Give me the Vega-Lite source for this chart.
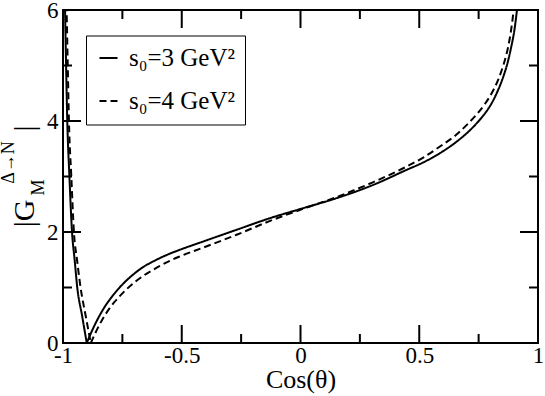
{
  "$schema": "https://vega.github.io/schema/vega-lite/v6.json",
  "width": 475,
  "height": 333,
  "autosize": {"type": "none"},
  "padding": {"left": 63, "top": 10, "right": 7, "bottom": 53},
  "background": "white",
  "config": {
    "view": {"stroke": "black", "strokeWidth": 2},
    "font": "Liberation Serif",
    "axis": {
      "grid": false,
      "domain": false,
      "labelFont": "Liberation Serif",
      "titleFont": "Liberation Serif",
      "labelColor": "black",
      "titleColor": "black",
      "titleFontWeight": "normal"
    }
  },
  "datasets": {
    "ticks": [
      {"t": "b1", "c": -0.75, "g": 0}, {"t": "b1", "c": -0.75, "g": 0.162},
      {"t": "b2", "c": -0.5, "g": 0}, {"t": "b2", "c": -0.5, "g": 0.324},
      {"t": "b3", "c": -0.25, "g": 0}, {"t": "b3", "c": -0.25, "g": 0.162},
      {"t": "b4", "c": 0, "g": 0}, {"t": "b4", "c": 0, "g": 0.324},
      {"t": "b5", "c": 0.25, "g": 0}, {"t": "b5", "c": 0.25, "g": 0.162},
      {"t": "b6", "c": 0.5, "g": 0}, {"t": "b6", "c": 0.5, "g": 0.324},
      {"t": "b7", "c": 0.75, "g": 0}, {"t": "b7", "c": 0.75, "g": 0.162},
      {"t": "t1", "c": -0.75, "g": 6}, {"t": "t1", "c": -0.75, "g": 5.838},
      {"t": "t2", "c": -0.5, "g": 6}, {"t": "t2", "c": -0.5, "g": 5.676},
      {"t": "t3", "c": -0.25, "g": 6}, {"t": "t3", "c": -0.25, "g": 5.838},
      {"t": "t4", "c": 0, "g": 6}, {"t": "t4", "c": 0, "g": 5.676},
      {"t": "t5", "c": 0.25, "g": 6}, {"t": "t5", "c": 0.25, "g": 5.838},
      {"t": "t6", "c": 0.5, "g": 6}, {"t": "t6", "c": 0.5, "g": 5.676},
      {"t": "t7", "c": 0.75, "g": 6}, {"t": "t7", "c": 0.75, "g": 5.838},
      {"t": "l1", "c": -1, "g": 1}, {"t": "l1", "c": -0.9621, "g": 1},
      {"t": "l2", "c": -1, "g": 2}, {"t": "l2", "c": -0.9242, "g": 2},
      {"t": "l3", "c": -1, "g": 3}, {"t": "l3", "c": -0.9621, "g": 3},
      {"t": "l4", "c": -1, "g": 4}, {"t": "l4", "c": -0.9242, "g": 4},
      {"t": "l5", "c": -1, "g": 5}, {"t": "l5", "c": -0.9621, "g": 5},
      {"t": "r1", "c": 1, "g": 1}, {"t": "r1", "c": 0.9621, "g": 1},
      {"t": "r2", "c": 1, "g": 2}, {"t": "r2", "c": 0.9242, "g": 2},
      {"t": "r3", "c": 1, "g": 3}, {"t": "r3", "c": 0.9621, "g": 3},
      {"t": "r4", "c": 1, "g": 4}, {"t": "r4", "c": 0.9242, "g": 4},
      {"t": "r5", "c": 1, "g": 5}, {"t": "r5", "c": 0.9621, "g": 5}
    ],
    "curves": [
      {"s": "s₀=3 GeV²", "b": "L", "c": -0.9935, "g": 6.5},
      {"s": "s₀=3 GeV²", "b": "L", "c": -0.987, "g": 5.0},
      {"s": "s₀=3 GeV²", "b": "L", "c": -0.982, "g": 4.0},
      {"s": "s₀=3 GeV²", "b": "L", "c": -0.973, "g": 3.0},
      {"s": "s₀=3 GeV²", "b": "L", "c": -0.962, "g": 2.0},
      {"s": "s₀=3 GeV²", "b": "L", "c": -0.951, "g": 1.5},
      {"s": "s₀=3 GeV²", "b": "L", "c": -0.940, "g": 1.0},
      {"s": "s₀=3 GeV²", "b": "L", "c": -0.920, "g": 0.5},
      {"s": "s₀=3 GeV²", "b": "L", "c": -0.900, "g": 0.0},
      {"s": "s₀=3 GeV²", "b": "R", "c": -0.900, "g": 0.0},
      {"s": "s₀=3 GeV²", "b": "R", "c": -0.880, "g": 0.20},
      {"s": "s₀=3 GeV²", "b": "R", "c": -0.860, "g": 0.38},
      {"s": "s₀=3 GeV²", "b": "R", "c": -0.840, "g": 0.54},
      {"s": "s₀=3 GeV²", "b": "R", "c": -0.820, "g": 0.68},
      {"s": "s₀=3 GeV²", "b": "R", "c": -0.800, "g": 0.80},
      {"s": "s₀=3 GeV²", "b": "R", "c": -0.770, "g": 0.96},
      {"s": "s₀=3 GeV²", "b": "R", "c": -0.732, "g": 1.13},
      {"s": "s₀=3 GeV²", "b": "R", "c": -0.700, "g": 1.25},
      {"s": "s₀=3 GeV²", "b": "R", "c": -0.662, "g": 1.37},
      {"s": "s₀=3 GeV²", "b": "R", "c": -0.620, "g": 1.47},
      {"s": "s₀=3 GeV²", "b": "R", "c": -0.592, "g": 1.53},
      {"s": "s₀=3 GeV²", "b": "R", "c": -0.550, "g": 1.61},
      {"s": "s₀=3 GeV²", "b": "R", "c": -0.514, "g": 1.67},
      {"s": "s₀=3 GeV²", "b": "R", "c": -0.409, "g": 1.83},
      {"s": "s₀=3 GeV²", "b": "R", "c": -0.269, "g": 2.04},
      {"s": "s₀=3 GeV²", "b": "R", "c": -0.128, "g": 2.25},
      {"s": "s₀=3 GeV²", "b": "R", "c": 0.012, "g": 2.43},
      {"s": "s₀=3 GeV²", "b": "R", "c": 0.152, "g": 2.61},
      {"s": "s₀=3 GeV²", "b": "R", "c": 0.307, "g": 2.85},
      {"s": "s₀=3 GeV²", "b": "R", "c": 0.447, "g": 3.12},
      {"s": "s₀=3 GeV²", "b": "R", "c": 0.520, "g": 3.26},
      {"s": "s₀=3 GeV²", "b": "R", "c": 0.587, "g": 3.42},
      {"s": "s₀=3 GeV²", "b": "R", "c": 0.658, "g": 3.63},
      {"s": "s₀=3 GeV²", "b": "R", "c": 0.700, "g": 3.78},
      {"s": "s₀=3 GeV²", "b": "R", "c": 0.742, "g": 3.96},
      {"s": "s₀=3 GeV²", "b": "R", "c": 0.770, "g": 4.10},
      {"s": "s₀=3 GeV²", "b": "R", "c": 0.798, "g": 4.27},
      {"s": "s₀=3 GeV²", "b": "R", "c": 0.826, "g": 4.50},
      {"s": "s₀=3 GeV²", "b": "R", "c": 0.854, "g": 4.80},
      {"s": "s₀=3 GeV²", "b": "R", "c": 0.872, "g": 5.05},
      {"s": "s₀=3 GeV²", "b": "R", "c": 0.889, "g": 5.37},
      {"s": "s₀=3 GeV²", "b": "R", "c": 0.900, "g": 5.62},
      {"s": "s₀=3 GeV²", "b": "R", "c": 0.910, "g": 5.95},
      {"s": "s₀=3 GeV²", "b": "R", "c": 0.918, "g": 6.3},
      {"s": "s₀=4 GeV²", "b": "L", "c": -0.987, "g": 6.5},
      {"s": "s₀=4 GeV²", "b": "L", "c": -0.980, "g": 5.0},
      {"s": "s₀=4 GeV²", "b": "L", "c": -0.975, "g": 4.0},
      {"s": "s₀=4 GeV²", "b": "L", "c": -0.965, "g": 3.0},
      {"s": "s₀=4 GeV²", "b": "L", "c": -0.954, "g": 2.0},
      {"s": "s₀=4 GeV²", "b": "L", "c": -0.941, "g": 1.5},
      {"s": "s₀=4 GeV²", "b": "L", "c": -0.926, "g": 1.0},
      {"s": "s₀=4 GeV²", "b": "L", "c": -0.905, "g": 0.5},
      {"s": "s₀=4 GeV²", "b": "L", "c": -0.883, "g": 0.0},
      {"s": "s₀=4 GeV²", "b": "R", "c": -0.883, "g": 0.0},
      {"s": "s₀=4 GeV²", "b": "R", "c": -0.865, "g": 0.17},
      {"s": "s₀=4 GeV²", "b": "R", "c": -0.845, "g": 0.34},
      {"s": "s₀=4 GeV²", "b": "R", "c": -0.825, "g": 0.49},
      {"s": "s₀=4 GeV²", "b": "R", "c": -0.805, "g": 0.62},
      {"s": "s₀=4 GeV²", "b": "R", "c": -0.785, "g": 0.73},
      {"s": "s₀=4 GeV²", "b": "R", "c": -0.760, "g": 0.85},
      {"s": "s₀=4 GeV²", "b": "R", "c": -0.732, "g": 0.97},
      {"s": "s₀=4 GeV²", "b": "R", "c": -0.700, "g": 1.09},
      {"s": "s₀=4 GeV²", "b": "R", "c": -0.662, "g": 1.21},
      {"s": "s₀=4 GeV²", "b": "R", "c": -0.620, "g": 1.32},
      {"s": "s₀=4 GeV²", "b": "R", "c": -0.592, "g": 1.39},
      {"s": "s₀=4 GeV²", "b": "R", "c": -0.550, "g": 1.48},
      {"s": "s₀=4 GeV²", "b": "R", "c": -0.514, "g": 1.55},
      {"s": "s₀=4 GeV²", "b": "R", "c": -0.409, "g": 1.72},
      {"s": "s₀=4 GeV²", "b": "R", "c": -0.269, "g": 1.95},
      {"s": "s₀=4 GeV²", "b": "R", "c": -0.128, "g": 2.20},
      {"s": "s₀=4 GeV²", "b": "R", "c": 0.012, "g": 2.42},
      {"s": "s₀=4 GeV²", "b": "R", "c": 0.152, "g": 2.63},
      {"s": "s₀=4 GeV²", "b": "R", "c": 0.307, "g": 2.90},
      {"s": "s₀=4 GeV²", "b": "R", "c": 0.447, "g": 3.18},
      {"s": "s₀=4 GeV²", "b": "R", "c": 0.520, "g": 3.35},
      {"s": "s₀=4 GeV²", "b": "R", "c": 0.587, "g": 3.54},
      {"s": "s₀=4 GeV²", "b": "R", "c": 0.658, "g": 3.76},
      {"s": "s₀=4 GeV²", "b": "R", "c": 0.707, "g": 3.96},
      {"s": "s₀=4 GeV²", "b": "R", "c": 0.742, "g": 4.12},
      {"s": "s₀=4 GeV²", "b": "R", "c": 0.777, "g": 4.31},
      {"s": "s₀=4 GeV²", "b": "R", "c": 0.805, "g": 4.50},
      {"s": "s₀=4 GeV²", "b": "R", "c": 0.833, "g": 4.75},
      {"s": "s₀=4 GeV²", "b": "R", "c": 0.855, "g": 5.02},
      {"s": "s₀=4 GeV²", "b": "R", "c": 0.875, "g": 5.35},
      {"s": "s₀=4 GeV²", "b": "R", "c": 0.886, "g": 5.62},
      {"s": "s₀=4 GeV²", "b": "R", "c": 0.896, "g": 5.95},
      {"s": "s₀=4 GeV²", "b": "R", "c": 0.903, "g": 6.3}
    ]
  },
  "layer": [
    {
      "data": {"name": "curves"},
      "mark": {"type": "line", "clip": true, "strokeWidth": 2, "color": "black", "interpolate": "monotone"},
      "encoding": {
        "x": {"field": "c", "type": "quantitative", "scale": {"domain": [-1, 1], "nice": false, "zero": false},
          "axis": {"orient": "bottom", "values": [-1, -0.5, 0, 0.5, 1], "ticks": false, "labelFontSize": 23, "labelPadding": 1, "labelFlush": false, "labelOverlap": false,
            "labelExpr": "datum.value < 0 ? '-' + format(-datum.value, '~g') : format(datum.value, '~g')",
            "title": "Cos(θ)", "titleFontSize": 26, "titleX": 237.5, "titleY": 44, "titleAlign": "center", "titleBaseline": "alphabetic"}},
        "y": {"field": "g", "type": "quantitative", "scale": {"domain": [0, 6], "nice": false, "zero": false},
          "axis": {"orient": "left", "values": [0, 2, 4, 6], "ticks": false, "labelFontSize": 23, "labelPadding": 5, "labelFlush": false, "labelOverlap": false,
            "labelExpr": "format(datum.value, '~g')",
            "title": "|G", "titleFontSize": 30, "titleAngle": 270, "titleX": -30, "titleY": 203, "titleAlign": "center", "titleBaseline": "alphabetic"}},
        "strokeDash": {"field": "s", "type": "nominal",
          "scale": {"domain": ["s₀=3 GeV²", "s₀=4 GeV²"], "range": [[1, 0], [7, 4]]},
          "legend": {"title": null, "orient": "none", "legendX": 23, "legendY": 25.5, "direction": "vertical", "padding": 10,
            "strokeColor": "black", "fillColor": "white", "symbolType": "stroke", "symbolSize": 324, "symbolStrokeWidth": 2,
            "symbolStrokeColor": "black", "labelFont": "Liberation Serif", "labelFontSize": 25, "labelColor": "black",
            "labelOffset": 8, "rowPadding": 17, "labelLimit": 0}},
        "detail": {"field": "b", "type": "nominal"}
      }
    },
    {
      "data": {"name": "ticks"},
      "mark": {"type": "line", "strokeWidth": 2, "color": "black", "interpolate": "linear"},
      "encoding": {
        "x": {"field": "c", "type": "quantitative", "axis": null},
        "y": {"field": "g", "type": "quantitative", "axis": null},
        "detail": {"field": "t", "type": "nominal"}
      }
    },
    {
      "data": {"name": "curves"},
      "mark": {"type": "point", "opacity": 0},
      "encoding": {
        "y": {"field": "g", "type": "quantitative", "axis": {"orient": "left", "ticks": false, "labels": false, "title": "M", "titleFontSize": 18, "titleAngle": 270, "titleX": -20, "titleY": 177, "titleAlign": "center", "titleBaseline": "alphabetic"}}
      }
    },
    {
      "data": {"name": "curves"},
      "mark": {"type": "point", "opacity": 0},
      "encoding": {
        "y": {"field": "g", "type": "quantitative", "axis": {"orient": "left", "ticks": false, "labels": false, "title": "Δ→N", "titleFontSize": 18, "titleAngle": 270, "titleX": -50, "titleY": 152, "titleAlign": "center", "titleBaseline": "alphabetic"}}
      }
    },
    {
      "data": {"name": "curves"},
      "mark": {"type": "point", "opacity": 0},
      "encoding": {
        "y": {"field": "g", "type": "quantitative", "axis": {"orient": "left", "ticks": false, "labels": false, "title": "|", "titleFontSize": 30, "titleAngle": 270, "titleX": -30, "titleY": 118, "titleAlign": "center", "titleBaseline": "alphabetic"}}
      }
    }
  ],
  "resolve": {"axis": {"x": "independent", "y": "independent"}}
}
